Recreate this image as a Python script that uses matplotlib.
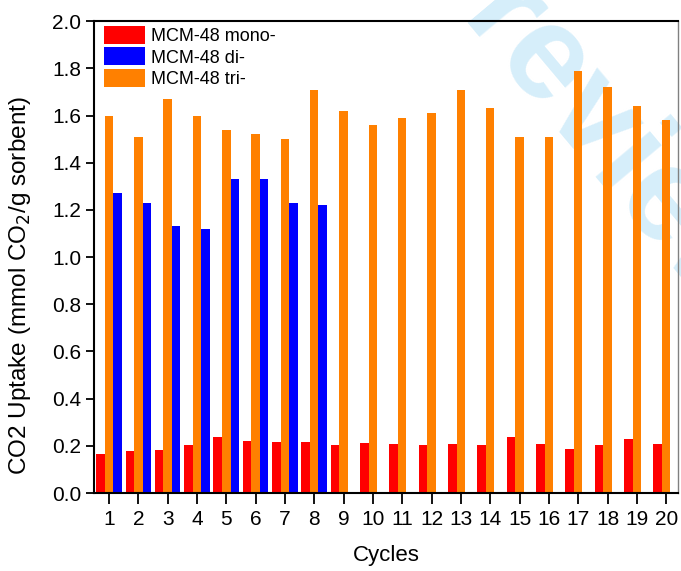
import matplotlib
matplotlib.use("Agg")
import matplotlib.pyplot as plt
import numpy as np

plt.rcParams["font.family"] = ["Liberation Sans", "DejaVu Sans"]

cycles = list(range(1, 21))
mono = [0.164, 0.179, 0.182, 0.202, 0.236, 0.220, 0.215, 0.215, 0.202, 0.212,
        0.208, 0.202, 0.208, 0.202, 0.237, 0.208, 0.188, 0.203, 0.229, 0.206]
di = [1.27, 1.23, 1.13, 1.12, 1.33, 1.33, 1.23, 1.22]
tri = [1.60, 1.51, 1.67, 1.60, 1.54, 1.52, 1.50, 1.71, 1.62, 1.56,
       1.59, 1.61, 1.71, 1.63, 1.51, 1.51, 1.79, 1.72, 1.64, 1.58]

labels = ["MCM-48 mono-", "MCM-48 di-", "MCM-48 tri-"]
colors = ["#ff0000", "#0000ff", "#ff8000"]

fig = plt.figure(figsize=(6.81, 5.71), dpi=100)
ax = fig.add_axes([0.138, 0.1366, 0.8575, 0.8264])
ax.set_facecolor("none")

x = np.array(cycles)
w = 0.29

# grouped bars: mono left, tri middle, di right
b1 = ax.bar(x - w, mono, w, color=colors[0], zorder=2, label=labels[0])
b2 = ax.bar(x[:len(di)] + w, di, w, color=colors[1], zorder=2, label=labels[1])
b3 = ax.bar(x, tri, w, color=colors[2], zorder=2, label=labels[2])

# light watermark behind the bars
ax.text(0.6725, 0.9615, "review", transform=fig.transFigure,
        rotation=-50, rotation_mode="anchor", ha="left", va="baseline",
        fontsize=96, fontweight="bold", color="#d6eefa", zorder=1, clip_on=False)

ax.set_xlim(0.49, 20.4)
ax.set_ylim(0, 2.0)
ax.set_xticks(cycles)
ax.set_yticks(np.arange(0, 2.01, 0.2))
ax.set_yticklabels([f"{v:.1f}" for v in np.arange(0, 2.01, 0.2)])

ax.tick_params(axis="both", labelsize=15, direction="out", width=1.3)
ax.tick_params(axis="x", length=8, pad=4)
ax.tick_params(axis="y", length=6, pad=3)

for s in ["left", "bottom", "top"]:
    ax.spines[s].set_linewidth(1.5)
ax.spines["right"].set_color("#808080")
ax.spines["right"].set_linewidth(1.0)

ax.set_xlabel("Cycles", fontsize=16, labelpad=12)
ax.set_ylabel("CO2 Uptake (mmol CO$_2$/g sorbent)", fontsize=17.5)
ax.yaxis.set_label_coords(-0.105, 0.4386)

ax.legend(handles=[b1, b2, b3], loc="upper left", bbox_to_anchor=(0.01, 1.0),
          frameon=False, fontsize=13, handlelength=2.25, handleheight=1.15,
          labelspacing=0.15, handletextpad=0.35, borderaxespad=0.15, borderpad=0.1)

fig.savefig("out.png", dpi=100)
